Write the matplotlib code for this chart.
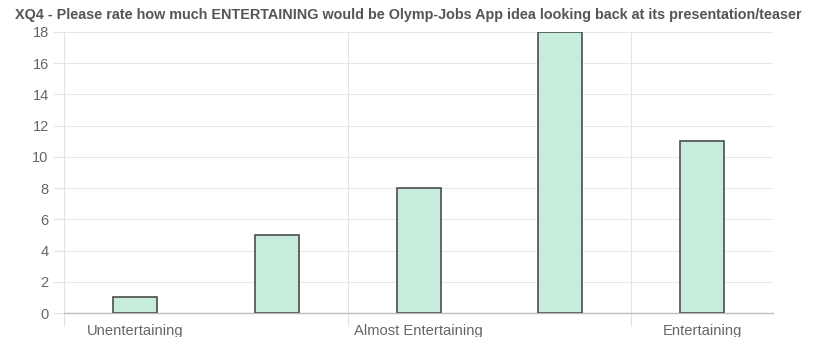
import matplotlib.pyplot as plt
from matplotlib.ticker import FixedLocator

# data
categories = ['Unentertaining', '', 'Almost Entertaining', '', 'Entertaining']
counts = [1, 5, 8, 18, 11]
y_ticks = [0, 2, 4, 6, 8, 10, 12, 14, 16, 18]

plt.rcParams['font.family'] = ['Liberation Sans', 'DejaVu Sans']

fig = plt.figure(figsize=(8.17, 3.37), dpi=100)
ax = fig.add_axes([0.0783, 0.0712, 0.868, 0.834])

x = list(range(len(counts)))
ax.bar(x, counts, width=0.31, color='#c8ecdb', edgecolor='#4d4d4d', linewidth=1.2, zorder=3)

ax.set_xlim(-0.5, len(counts) - 0.5)
ax.set_ylim(0, 18)
ax.set_yticks(y_ticks)

# labels only on every other category
ax.xaxis.set_major_locator(FixedLocator([0, 2, 4]))
ax.set_xticklabels([categories[0], categories[2], categories[4]])
ax.xaxis.set_minor_locator(FixedLocator([-0.5, 1.5, 3.5]))

ax.tick_params(axis='x', which='major', length=0, pad=8, labelsize=10.6, labelcolor='#666666')
ax.tick_params(axis='x', which='minor', length=9, width=0.8, color='#e3e3e3')
ax.tick_params(axis='y', length=8, width=0.8, color='#e3e3e3', pad=3, labelsize=10.5, labelcolor='#666666')

ax.grid(axis='y', color='#e8e8e8', linewidth=0.8, zorder=0)
ax.grid(axis='x', which='minor', color='#e3e3e3', linewidth=0.8, zorder=0)
ax.grid(axis='x', which='major', visible=False)

for s in ['top', 'right']:
    ax.spines[s].set_visible(False)
ax.spines['left'].set_color('#e3e3e3')
ax.spines['bottom'].set_color('#bdbdbd')
ax.spines['left'].set_linewidth(0.8)
ax.spines['bottom'].set_linewidth(1.0)

fig.text(0.5, 0.955,
         'XQ4 - Please rate how much ENTERTAINING would be Olymp-Jobs App idea looking back at its presentation/teaser',
         ha='center', va='center', fontsize=10.4, fontweight='bold', color='#555555')

fig.savefig('out.png', dpi=100)
